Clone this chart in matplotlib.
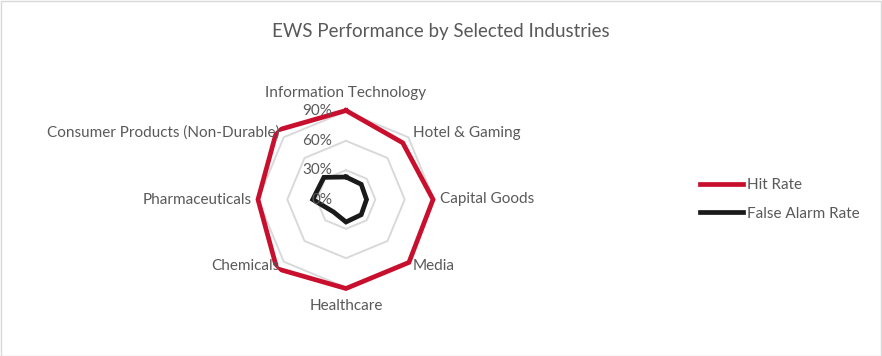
import numpy as np
import matplotlib.pyplot as plt
from matplotlib.patches import Rectangle

# Data (clockwise from the top)
categories = ['Information Technology', 'Hotel & Gaming', 'Capital Goods', 'Media',
              'Healthcare', 'Chemicals', 'Pharmaceuticals', 'Consumer Products (Non-Durable)']
hit_rate = [0.91, 0.82, 0.89, 0.91, 0.91, 1.00, 0.90, 1.00]
false_alarm = [0.23, 0.22, 0.21, 0.22, 0.23, 0.18, 0.34, 0.32]
ring_values = [0.0, 0.3, 0.6, 0.9]
ring_labels = ['0%', '30%', '60%', '90%']

plt.rcParams['font.family'] = ['Lato', 'DejaVu Sans']
txt_gray = '#595959'
grid_gray = '#d9d9d9'
red = '#c8102e'
black = '#1a1a1a'

W, H = 882, 356
fig = plt.figure(figsize=(W / 100, H / 100), dpi=100)

# chart border
fig.add_artist(Rectangle((0.5 / W, 0.5 / H), 1 - 1.5 / W, 1 - 1.5 / H, transform=fig.transFigure,
                         fill=False, edgecolor=grid_gray, lw=1))

fig.text(0.5, 1 - 31 / H, 'EWS Performance by Selected Industries', ha='center', va='center',
         fontsize=13.5, color=txt_gray)

# polar axes, centre about (346, 199.5) px, r=1.0 -> 97.8 px
cx, cy, R = 346, 199.5, 97.8
ax = fig.add_axes([(cx - R) / W, (H - cy - R) / H, 2 * R / W, 2 * R / H], projection='polar')
ax.set_theta_zero_location('N')
ax.set_theta_direction(-1)
ax.set_ylim(0, 1.0)
ax.grid(False)
ax.spines['polar'].set_visible(False)
ax.set_xticks([])
ax.set_yticks([])
ax.patch.set_alpha(0)

angles = np.linspace(0, 2 * np.pi, len(categories), endpoint=False)
closed = np.append(angles, angles[0])

# octagonal gridlines
for v in ring_values[1:]:
    ax.plot(closed, [v] * len(closed), color=grid_gray, lw=1.4, zorder=1)

l1, = ax.plot(closed, hit_rate + hit_rate[:1], color=red, lw=3.4, zorder=3,
              solid_joinstyle='miter')
l2, = ax.plot(closed, false_alarm + false_alarm[:1], color=black, lw=3.4, zorder=3,
              solid_joinstyle='miter')

# radial value labels
for v, lab in zip(ring_values, ring_labels):
    ax.annotate(lab, xy=(0, v), xytext=(-14, 0), textcoords='offset pixels',
                ha='right', va='center', fontsize=11, color=txt_gray, zorder=4)

# category labels
for ang, cat in zip(angles, categories):
    s, c = np.sin(ang), np.cos(ang)
    if abs(s) < 1e-6:
        ha, r = 'center', 1.085
    else:
        ha, r = ('left' if s > 0 else 'right'), 0.965
    ax.text(ang, r, cat, ha=ha, va='center', fontsize=11, color=txt_gray, clip_on=False)

fig.legend([l1, l2], ['Hit Rate', 'False Alarm Rate'], loc='center left',
           bbox_to_anchor=(700 / W, 1 - 199.5 / H), frameon=False, fontsize=11,
           handlelength=2.8, handletextpad=0.25, labelspacing=0.95,
           borderpad=0, borderaxespad=0, labelcolor=txt_gray)

fig.savefig('out.png', dpi=100)
